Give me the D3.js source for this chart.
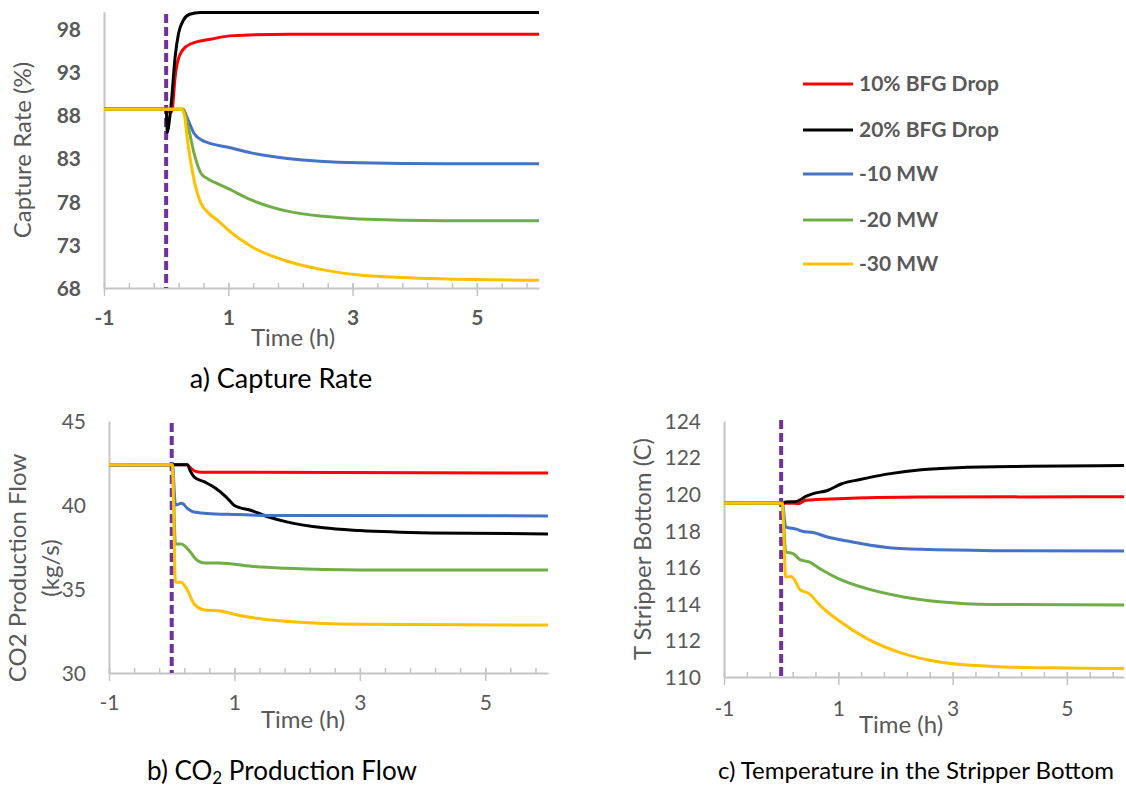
<!DOCTYPE html>
<html>
<head>
<meta charset="utf-8">
<script src="https://cdn.jsdelivr.net/npm/d3@7"></script>
<style>
body { margin: 0; background: #fff; }
text { font-family: Lato, "Open Sans", sans-serif; }
</style>
</head>
<body>
<script>
const names = ["10% BFG Drop", "20% BFG Drop", "-10 MW", "-20 MW", "-30 MW"];
const colors = ["#FF0000", "#000000", "#4472C4", "#70AD47", "#FFC000"];

const xMajor = [-1, 1, 3, 5];
const capTicks = [68, 73, 78, 83, 88, 93, 98];
const flowTicks = [30, 35, 40, 45];
const tempTicks = [110, 112, 114, 116, 118, 120, 122, 124];

// a) capture rate (%), [time h, value]
const capRed = [[-1, 88.7], [0, 88.7], [0.07, 88.3], [0.1, 88.8], [0.145, 92.5], [0.2, 94.6], [0.31, 95.9], [0.49, 96.5], [0.71, 96.8], [1.03, 97.2], [2.0, 97.4], [4, 97.4], [6, 97.4]];
const capBlack = [[-1, 88.7], [0, 88.7], [0.02, 86.0], [0.05, 87.3], [0.08, 89.2], [0.145, 94.8], [0.2, 97.5], [0.28, 99.05], [0.38, 99.7], [0.55, 99.9], [6, 99.9]];
const capBlue = [[-1, 88.7], [0.27, 88.7], [0.35, 87.5], [0.45, 85.9], [0.58, 85.1], [0.68, 84.8], [1.0, 84.3], [1.37, 83.65], [1.95, 83.0], [3.1, 82.5], [4.5, 82.4], [6, 82.4]];
const capGreen = [[-1, 88.7], [0.27, 88.7], [0.35, 86.8], [0.45, 83.6], [0.56, 81.3], [0.68, 80.6], [0.85, 80.0], [1.0, 79.5], [1.37, 78.2], [1.95, 76.9], [2.53, 76.3], [3.1, 76.0], [4.5, 75.8], [6, 75.8]];
const capYellow = [[-1, 88.7], [0.25, 88.7], [0.3, 87.8], [0.33, 85.9], [0.45, 80.5], [0.56, 77.8], [0.68, 76.7], [0.85, 75.7], [1.0, 74.7], [1.37, 72.8], [1.95, 71.1], [2.53, 70.1], [3.1, 69.5], [4.26, 69.1], [6, 68.9]];

// b) CO2 production flow (kg/s)
const flowRed = [[-1, 42.4], [0.24, 42.4], [0.3, 42.2], [0.38, 42.0], [0.47, 41.95], [1.0, 41.95], [6, 41.9]];
const flowBlack = [[-1, 42.4], [0.25, 42.4], [0.3, 42.0], [0.36, 41.66], [0.53, 41.36], [0.7, 41.0], [0.87, 40.47], [1.0, 39.97], [1.27, 39.67], [1.56, 39.27], [1.85, 38.98], [2.42, 38.64], [3.0, 38.48], [4.14, 38.34], [6, 38.28]];
const flowBlue = [[-1, 42.4], [0.01, 42.4], [0.06, 40.0], [0.16, 40.1], [0.25, 39.8], [0.34, 39.6], [0.56, 39.5], [1.0, 39.43], [1.85, 39.37], [6, 39.35]];
const flowGreen = [[-1, 42.4], [0.01, 42.4], [0.06, 37.68], [0.15, 37.68], [0.3, 37.19], [0.38, 36.8], [0.53, 36.55], [0.76, 36.55], [1.27, 36.35], [1.85, 36.23], [3.0, 36.13], [6, 36.13]];
const flowYellow = [[-1, 42.4], [0.01, 42.4], [0.06, 35.4], [0.15, 35.4], [0.24, 35.0], [0.36, 34.1], [0.53, 33.75], [0.76, 33.7], [0.99, 33.5], [1.27, 33.3], [1.85, 33.07], [3.0, 32.9], [6, 32.85]];

// c) stripper bottom temperature (C)
const tempRed = [[-1, 119.5], [0.24, 119.5], [0.3, 119.47], [0.43, 119.66], [1.0, 119.75], [2.45, 119.84], [6, 119.86]];
const tempBlack = [[-1, 119.5], [0.03, 119.5], [0.08, 119.57], [0.27, 119.6], [0.43, 119.88], [0.56, 120.03], [0.81, 120.2], [1.06, 120.57], [1.38, 120.8], [1.82, 121.08], [2.45, 121.34], [3.08, 121.45], [4.35, 121.52], [6, 121.56]];
const tempBlue = [[-1, 119.5], [0.02, 119.5], [0.08, 118.2], [0.27, 118.09], [0.37, 117.97], [0.56, 117.9], [0.81, 117.66], [1.19, 117.42], [1.82, 117.1], [2.45, 116.98], [3.71, 116.91], [6, 116.89]];
const tempGreen = [[-1, 119.5], [0.02, 119.5], [0.08, 116.84], [0.21, 116.75], [0.33, 116.42], [0.49, 116.29], [0.68, 115.92], [1.0, 115.38], [1.5, 114.83], [2.14, 114.38], [2.77, 114.12], [3.71, 113.97], [6, 113.94]];
const tempYellow = [[-1, 119.5], [0.02, 119.5], [0.08, 115.47], [0.18, 115.5], [0.24, 115.29], [0.33, 114.78], [0.49, 114.56], [0.68, 113.92], [1.0, 113.1], [1.5, 112.1], [2.14, 111.28], [2.77, 110.82], [3.71, 110.58], [4.98, 110.49], [6, 110.46]];

const gray = "#595959";
const axisCol = "#C4C4C4";

const svg = d3.select("body").append("svg").attr("width", 1126).attr("height", 789);

function drawPanel(p) {
  const x = d3.scaleLinear().domain([-1, 6]).range(p.xr);
  const y = d3.scaleLinear().domain(p.yd).range(p.yr);
  const base = y(p.yd[0]);
  const g = svg.append("g");

  // minor ticks, inside
  const minor = d3.range(-1, 6.01, 0.4);
  g.append("g").attr("transform", `translate(0,${base})`)
    .call(d3.axisBottom(x).tickValues(minor).tickSizeInner(-5).tickSizeOuter(0).tickFormat(""))
    .call(a => a.select(".domain").remove())
    .call(a => a.selectAll(".tick line").attr("stroke", axisCol).attr("stroke-width", 1.5));

  // major ticks + labels
  const xa = g.append("g").attr("transform", `translate(0,${base})`)
    .call(d3.axisBottom(x).tickValues(xMajor).tickSizeOuter(0).tickFormat(d3.format("d")));
  xa.select(".domain").attr("stroke", axisCol).attr("stroke-width", 2);
  xa.selectAll(".tick line").attr("stroke", axisCol).attr("stroke-width", 1.5).attr("y1", -5).attr("y2", 8);
  xa.selectAll(".tick text").attr("fill", gray).attr("font-size", 21)
    .attr("font-family", "Lato, sans-serif").attr("font-weight", p.bold ? "bold" : "normal")
    .attr("y", p.xLabY - base).attr("dy", "0.35em")
    .text(d => d < 0 ? "-" + Math.abs(d) : d);

  const ya = g.append("g").attr("transform", `translate(${x(-1)},0)`)
    .call(d3.axisLeft(y).tickValues(p.ticks).tickSize(0).tickPadding(23));
  ya.select(".domain").attr("stroke", axisCol).attr("stroke-width", 2);
  ya.selectAll(".tick text").attr("fill", gray).attr("font-size", 21)
    .attr("font-family", "Lato, sans-serif").attr("font-weight", p.bold ? "bold" : "normal")
    .attr("dy", "0.35em");

  // event line at t = 0
  g.append("line")
    .attr("x1", x(0)).attr("x2", x(0))
    .attr("y1", p.dashTop).attr("y2", base)
    .attr("stroke", "#7030A0").attr("stroke-width", 4).attr("stroke-dasharray", "9 4");

  const line = d3.line().x(d => x(d[0])).y(d => y(d[1])).curve(d3.curveMonotoneX);
  p.series.forEach((s, i) => {
    g.append("path").datum(s)
      .attr("d", line)
      .attr("fill", "none")
      .attr("stroke", colors[i])
      .attr("stroke-width", 3)
      .attr("stroke-linejoin", "round");
  });

  // axis titles
  g.append("text").attr("x", p.timeX).attr("y", p.timeY).attr("dy", "0.35em")
    .attr("text-anchor", "middle").attr("font-size", 24).attr("fill", gray).text("Time (h)");
  p.yTitle.forEach((t, i) => {
    g.append("text")
      .attr("transform", `translate(${p.yTitleX[i]},${p.yTitleY}) rotate(-90)`)
      .attr("dy", "0.35em").attr("text-anchor", "middle")
      .attr("font-size", 24).attr("fill", gray).text(t);
  });
}

drawPanel({
  xr: [104, 539], yd: [68, 100], yr: [288, 11.7], ticks: capTicks, bold: true,
  xLabY: 318, dashTop: 14, timeX: 293, timeY: 338,
  yTitle: ["Capture Rate (%)"], yTitleX: [23], yTitleY: 150,
  series: [capRed, capBlack, capBlue, capGreen, capYellow]
});
drawPanel({
  xr: [109, 548], yd: [30, 45], yr: [673, 421], ticks: flowTicks, bold: false,
  xLabY: 703, dashTop: 423, timeX: 303, timeY: 720,
  yTitle: ["CO2 Production Flow", "(kg/s)"], yTitleX: [18, 51], yTitleY: 568,
  series: [flowRed, flowBlack, flowBlue, flowGreen, flowYellow]
});
drawPanel({
  xr: [724, 1124], yd: [110, 124], yr: [677, 421], ticks: tempTicks, bold: false,
  xLabY: 709, dashTop: 420, timeX: 901, timeY: 725,
  yTitle: ["T Stripper Bottom (C)"], yTitleX: [643], yTitleY: 549,
  series: [tempRed, tempBlack, tempBlue, tempGreen, tempYellow]
});

// legend
const legY = [84, 130, 174, 220, 264];
const leg = svg.append("g");
names.forEach((n, i) => {
  leg.append("line").attr("x1", 803).attr("x2", 853).attr("y1", legY[i]).attr("y2", legY[i])
    .attr("stroke", colors[i]).attr("stroke-width", 3);
  leg.append("text").attr("x", 859).attr("y", legY[i]).attr("dy", "0.35em")
    .attr("font-size", 21).attr("font-weight", "bold").attr("fill", gray).text(n);
});

// captions
svg.append("text").attr("x", 281).attr("y", 379).attr("dy", "0.35em").attr("text-anchor", "middle")
  .attr("font-size", 27).attr("fill", "#000").text("a) Capture Rate");
const cb = svg.append("text").attr("x", 282).attr("y", 771).attr("dy", "0.35em").attr("text-anchor", "middle")
  .attr("font-size", 26).attr("fill", "#000");
cb.append("tspan").text("b) CO");
cb.append("tspan").attr("font-size", 17).attr("dy", 4).text("2");
cb.append("tspan").attr("dy", -4).text(" Production Flow");
svg.append("text").attr("x", 916).attr("y", 771).attr("dy", "0.35em").attr("text-anchor", "middle")
  .attr("font-size", 24).attr("fill", "#000").text("c) Temperature in the Stripper Bottom");
</script>
</body>
</html>
